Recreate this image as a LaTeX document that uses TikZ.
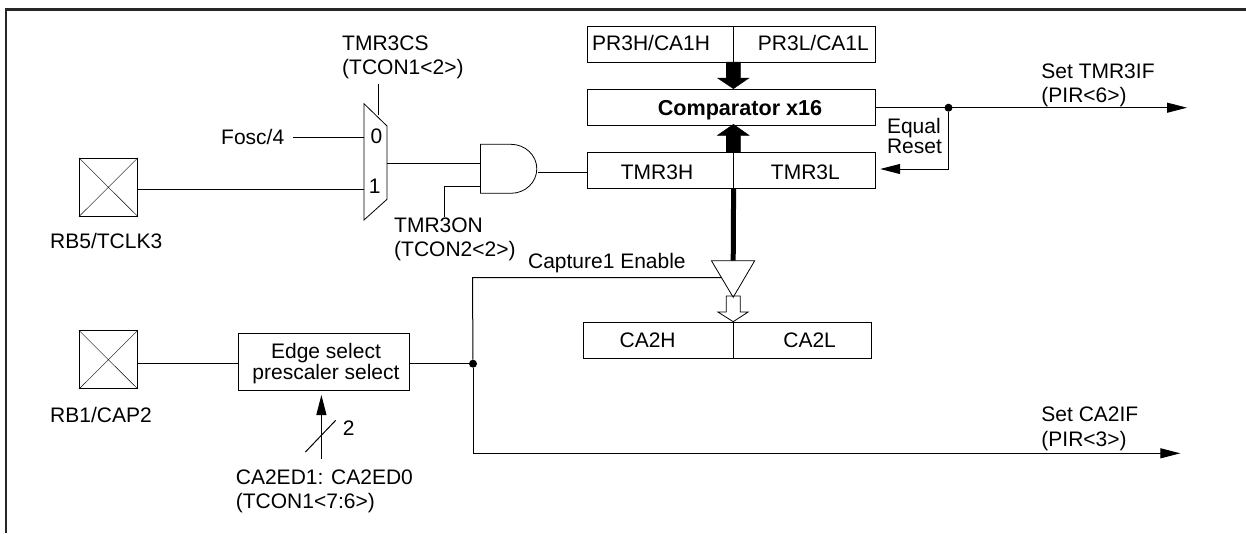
\documentclass[tikz,border=0pt]{standalone}
\usepackage{fontspec}
\setmainfont{Liberation Sans}
\usetikzlibrary{arrows.meta}
\tikzset{
  lbl/.style={inner sep=0pt,anchor=base west,align=left,font=\fontsize{21}{24.7}\selectfont},
  lblc/.style={inner sep=0pt,anchor=base,font=\fontsize{21}{24.7}\selectfont},
  regbox/.style={draw,thick,inner sep=0pt},
  padbox/.style={draw,thick,inner sep=0pt,minimum width=58.2pt,minimum height=58pt},
  wire/.style={line width=1pt},
  flag/.style={line width=1pt,-{Triangle[length=20pt,width=10pt]}},
  dotnode/.style={circle,fill=black,inner sep=0pt,minimum size=8pt}
}
\begin{document}
\begin{tikzpicture}[x=1pt,y=-1pt]
\useasboundingbox (0,0) rectangle (1246,533);
%\draw[step=50,gray,very thin] (0,0) grid (1246,533); %background grid
\draw[line width=2.4pt,black!85] (6,533) -- (6,9.3) -- (1246,9.3);
% registers
\node[regbox,minimum width=145.6pt,minimum height=36.3pt] (prh) at (660.4,44.2) {};
\node[regbox,minimum width=142.2pt,minimum height=36.3pt] (prl) at (804.3,44.2) {};
\node[regbox,minimum width=287.8pt,minimum height=36pt] (cmp) at (731.5,107.7) {};
\node[regbox,minimum width=145.6pt,minimum height=36.4pt] (tmrh) at (660.4,170.5) {};
\node[regbox,minimum width=142.2pt,minimum height=36.4pt] (tmrl) at (804.3,170.5) {};
\node[regbox,minimum width=149.6pt,minimum height=36.4pt] (cah) at (658.4,340.5) {};
\node[regbox,minimum width=138.7pt,minimum height=36.4pt] (cal) at (802.5,340.5) {};
\node[lbl] (prhtext) at (592,50.7) {PR3H/CA1H};
\node[lbl] (prltext) at (757.7,50.7) {PR3L/CA1L};
\node[lblc,font=\fontsize{21.6}{24}\selectfont\bfseries] (cmptext) at (740,115) {Comparator x16};
\node[lblc] (tmrhtext) at (657,179) {TMR3H};
\node[lblc] (tmrltext) at (805.4,179) {TMR3L};
\node[lblc] (cahtext) at (647.6,347.7) {CA2H};
\node[lblc] (caltext) at (809.6,347.7) {CA2L};
% pins
\node[padbox] (pada) at (108.4,187.2) {};
\node[padbox] (padb) at (108.4,359.7) {};
\draw (pada.north west) -- (pada.south east) (pada.north east) -- (pada.south west);
\draw (padb.north west) -- (padb.south east) (padb.north east) -- (padb.south west);
\node[lbl] (padatext) at (50,248.7) {RB5/TCLK3};
\node[lbl] (padbtext) at (50,422) {RB1/CAP2};
% mux
\coordinate (muxa) at (364,137.7);
\coordinate (muxb) at (364,189);
\coordinate (muxs) at (378.6,115);
\coordinate (muxo) at (387,163.3);
\draw[thick] (364,103.7) -- (387,126) -- (387,199.3) -- (364,220) -- cycle;
\node[lblc] (mux0) at (376.4,143.5) {0};
\node[lblc] (mux1) at (374.6,193) {1};
\node[lbl] (seltext) at (342,74.7) {TMR3CS\\(TCON1<2>)};
\coordinate (selend) at (378.6,84);
\node[lbl] (fosc) at (221,144.7) {Fosc/4};
\coordinate (foscend) at (293,137.7);
\draw[wire] (selend) -- (muxs);
\draw[wire] (foscend) -- (muxa);
\draw[wire] (pada.east |- muxb) -- (muxb);
% and gate
\coordinate (anda) at (480.4,163.3);
\coordinate (andb) at (480.4,186.3);
\coordinate (ando) at (537.5,172);
\draw[thick] (480.4,144.3) -- (511,144.3) arc[start angle=90,end angle=-90,x radius=25.8pt,y radius=24.5pt] -- (480.4,193.3) -- cycle;
\node[lbl] (ontext) at (394,256.7) {TMR3ON\\(TCON2<2>)};
\coordinate (onend) at (444,216.7);
\draw[wire] (muxo) -- (anda);
\draw[wire] (onend) |- (andb);
\draw[wire] (ando) -- (ando -| tmrh.west);
% bus arrows
\draw[fill=black] (726.2,62) -- (740.7,62) -- (740.7,78) -- (749,78) -- (733.4,88.7) -- (717.5,78) -- (726.2,78) -- cycle;
\draw[fill=black] (726.2,152.3) -- (740.7,152.3) -- (740.7,135.3) -- (749,135.3) -- (733.4,124.3) -- (717.5,135.3) -- (726.2,135.3) -- cycle;
\draw[fill=white,thick] (726.2,296) -- (740.2,296) -- (740.2,312) -- (748.1,312) -- (733.2,321.7) -- (717.9,312) -- (726.2,312) -- cycle;
% buffer
\draw[thick] (711.4,260.7) -- (754.7,260.7) -- (733.2,297.3) -- cycle;
\coordinate (bufin) at (733.2,260.7);
\coordinate (bufen) at (721.9,277.5);
\draw[line width=5pt] (tmrh.south east) -- (bufin);
% flags
\coordinate (setend) at (1187,107.7);
\coordinate (resetend) at (880.2,169);
\node[dotnode] (eqdot) at (948.5,107.7) {};
\draw[flag] (cmp.east) -- (setend);
\draw[flag] (eqdot) |- (resetend);
\node[lbl] (settext) at (1041.2,102.7) {Set TMR3IF\\(PIR<6>)};
\node[lbl,font=\fontsize{21}{20}\selectfont] (eqtext) at (886.8,153.7) {Equal\\Reset};
% edge select
\node[regbox,minimum width=171.7pt,minimum height=57.3pt] (edge) at (323.8,361.7) {};
\node[lblc] (edgea) at (326,358) {Edge select};
\node[lblc] (edgeb) at (326,379) {prescaler select};
\node[dotnode] (capdot) at (473,363.7) {};
\draw[wire] (pada.east |- capdot) -- (edge.west |- capdot);
\draw[wire] (edge.east |- capdot) -- (capdot);
\coordinate (setcaend) at (1180.3,453.3);
\draw[wire] (bufen) -- (472.5,277.5) -- (capdot);
\draw[flag] (capdot) |- (setcaend);
\node[lbl] (captext) at (527.9,268) {Capture1 Enable};
\node[lbl] (setcatext) at (1041.2,446.3) {Set CA2IF\\(PIR<3>)};
% edge bits
\coordinate (bitsend) at (321.4,458.7);
\coordinate (bitstip) at (321.4,395);
\draw[flag] (bitsend) -- (bitstip);
\draw[wire] (305.4,452) -- (335.7,420.3);
\node[lblc] (bitsn) at (348.6,435) {2};
\node[lbl] (bitstext) at (235.7,508.7) {CA2ED1: CA2ED0\\(TCON1<7:6>)};
\end{tikzpicture}
\end{document}
